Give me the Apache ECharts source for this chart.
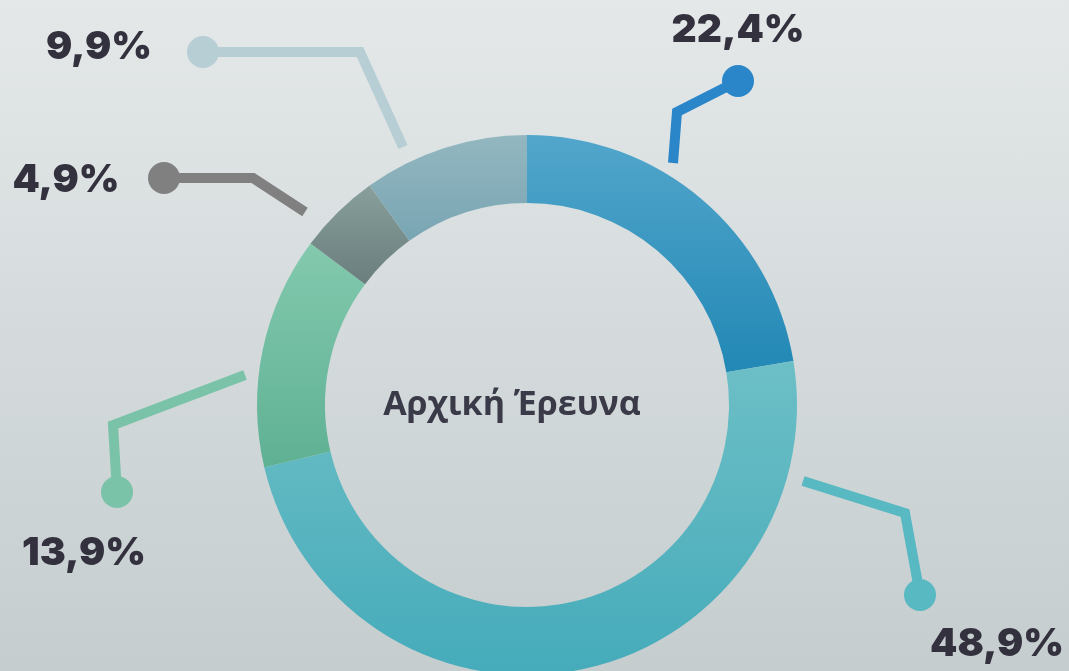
<!DOCTYPE html>
<html>
<head>
<meta charset="utf-8">
<title>Αρχική Έρευνα</title>
<script src="https://cdn.jsdelivr.net/npm/echarts@6/dist/echarts.min.js"></script>
<style>
  html, body { margin: 0; padding: 0; }
  #chart {
    width: 1069px;
    height: 671px;
    background: linear-gradient(to bottom, #e4e8e9 0%, #c5cdcf 100%);
  }
</style>
</head>
<body>
<div id="chart"></div>
<script>
// data
const categories = ['Κατηγορία Α', 'Κατηγορία Β', 'Κατηγορία Γ', 'Κατηγορία Δ', 'Κατηγορία Ε']
const shares = [22.4, 48.9, 13.9, 4.9, 9.9]
const centerTitle = 'Αρχική Έρευνα'

// styles
const sliceColors = [
  ['#52a6cb', '#2288b5'],
  ['#6dbfc6', '#45abba'],
  ['#83c9ae', '#5fb194'],
  ['#889f9b', '#6a7e7d'],
  ['#93b7c0', '#79a5b3']
]
const lineColors = ['#2a86c8', '#59b9c3', '#7bc3a8', '#808080', '#b6ced4']

// pie centre in px, leader lines as offsets from it
const CX = 527
const CY = 405
const leaders = [
  { line: [[146, -242], [150, -293], [211, -324]], label: [211, -375] },
  { line: [[276, 76], [378, 108], [393, 190]], label: [470, 239] },
  { line: [[-282, -30], [-414, 20], [-410, 87]], label: [-443, 148] },
  { line: [[-222, -193], [-274, -227], [-363, -227]], label: [-461, -225] },
  { line: [[-124, -258], [-167, -353], [-324, -353]], label: [-428, -358] }
]

const chart = echarts.init(document.getElementById('chart'))

function fmt(v) {
  return v.toFixed(1).replace('.', ',') + '%'
}

const pieData = shares.map((v, i) => ({
  name: categories[i],
  value: v,
  itemStyle: {
    color: new echarts.graphic.LinearGradient(0, 0, 0, 1, [
      { offset: 0, color: sliceColors[i][0] },
      { offset: 1, color: sliceColors[i][1] }
    ])
  },
  labelLine: { lineStyle: { color: lineColors[i] } }
}))

const dots = leaders.map((l, i) => {
  const p = l.line[l.line.length - 1]
  return {
    type: 'circle',
    shape: { cx: CX + p[0], cy: CY + p[1], r: 16 },
    style: { fill: lineColors[i] },
    z: 10
  }
})

const option = {
  animation: false,
  graphic: [
    ...dots,
    {
      type: 'text',
      x: CX - 15,
      y: CY,
      style: {
        text: centerTitle,
        fill: '#3a3a48',
        font: 'bold 34px "Open Sans"',
        textAlign: 'center',
        textVerticalAlign: 'middle'
      },
      z: 10
    }
  ],
  series: [{
    type: 'pie',
    center: [CX, CY],
    radius: [202, 270],
    startAngle: 90,
    clockwise: true,
    avoidLabelOverlap: false,
    label: {
      show: true,
      formatter: p => fmt(p.value),
      color: '#34313f',
      fontFamily: 'Inter',
      fontWeight: 900,
      fontSize: 39
    },
    labelLine: {
      show: true,
      smooth: false,
      lineStyle: { width: 10, cap: 'butt', join: 'miter' }
    },
    labelLayout: params => {
      const l = leaders[params.dataIndex]
      return {
        x: CX + l.label[0],
        y: CY + l.label[1],
        align: 'center',
        verticalAlign: 'middle',
        labelLinePoints: l.line.map(p => [CX + p[0], CY + p[1]])
      }
    },
    emphasis: { disabled: true },
    data: pieData
  }]
}

chart.setOption(option)
</script>
</body>
</html>
